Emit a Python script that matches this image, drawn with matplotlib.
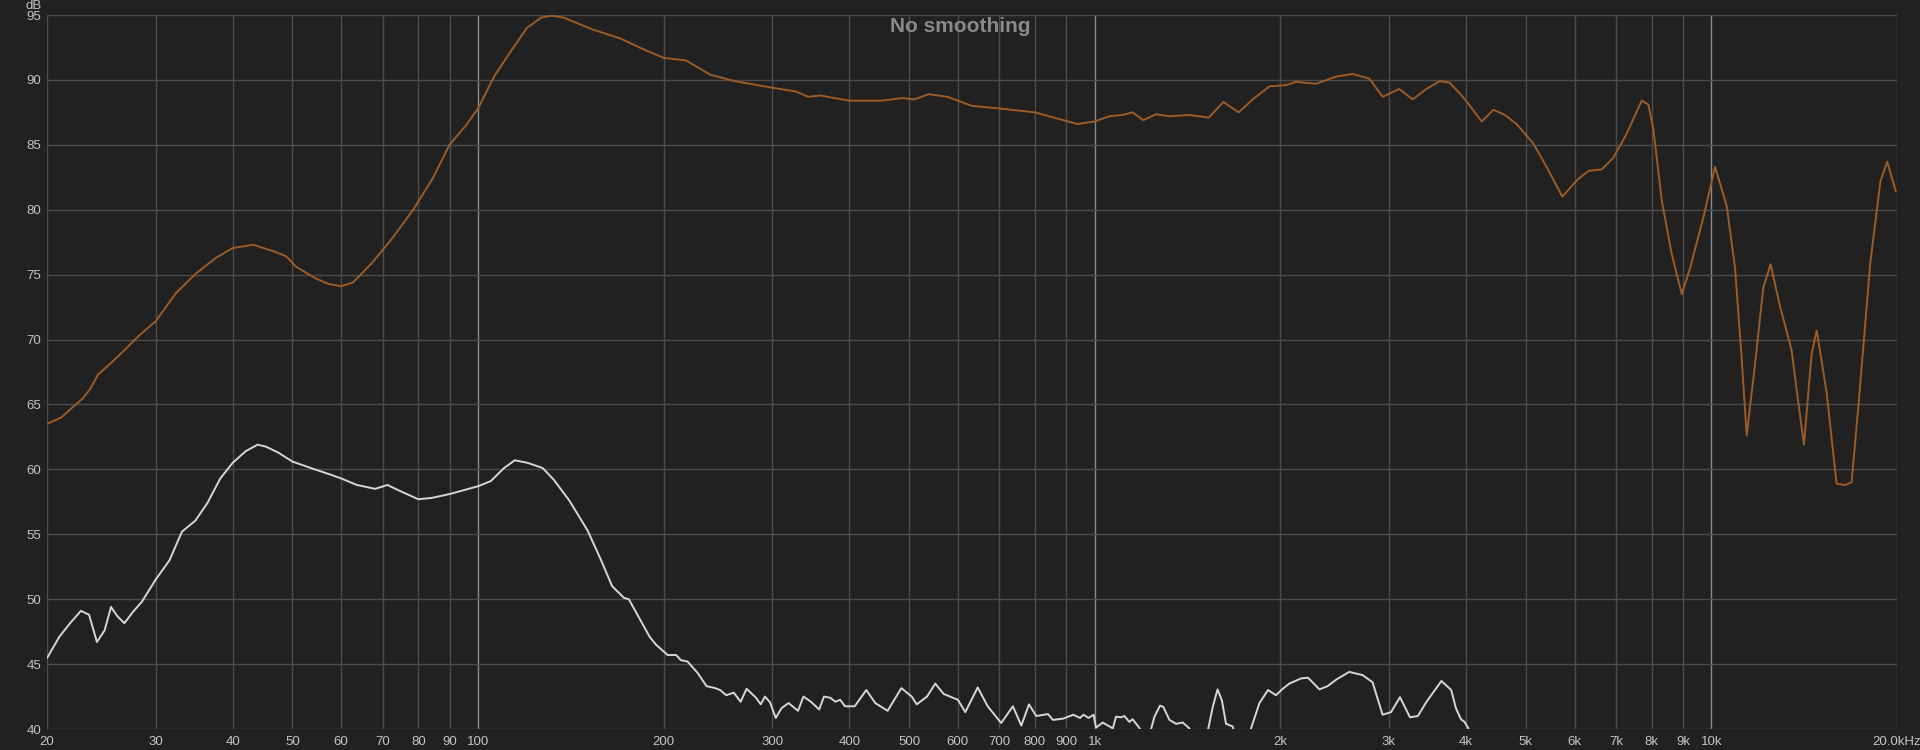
import numpy as np
import matplotlib.pyplot as plt
from matplotlib.ticker import FixedLocator, NullLocator

# orange trace (Hz, dB)
orange_freq = [20, 21.1, 21.9, 22.9, 23.5, 24.2, 25.4, 26.6, 28.2, 30, 32.4, 34.9, 37.6, 40, 43.2,
               46.6, 48.9, 50.7, 54.6, 57.1, 60, 62.7, 67.3, 72.6, 78.5, 84.4, 89.9, 95.6, 100,
               106.3, 113, 120, 126.6, 131.5, 137.7, 153, 170, 186.6, 200, 217.5, 238, 261, 300,
               328, 343, 359, 400, 451, 488, 510, 538, 577, 632, 700, 800, 843, 938, 1000, 1056,
               1110, 1152, 1199, 1257, 1322, 1424, 1531, 1617, 1712, 1804, 1920, 2043, 2120, 2285,
               2463, 2620, 2787, 2931, 3117, 3279, 3450, 3625, 3759, 3902, 4000, 4242, 4432, 4626,
               4831, 5145, 5405, 5733, 6060, 6324, 6640, 6934, 7288, 7709, 7903, 8053, 8310, 8623,
               8954, 9236, 9705, 10138, 10589, 10925, 11200, 11410, 11770, 12140, 12475, 12915,
               13490, 13830, 14130, 14540, 14820, 15380, 15960, 16460, 16880, 17310, 18100, 18800,
               19280, 19920]
orange_db = [63.5, 64.0, 64.7, 65.5, 66.2, 67.3, 68.2, 69.1, 70.3, 71.4, 73.6, 75.1, 76.3, 77.05, 77.3,
             76.8, 76.4, 75.6, 74.7, 74.3, 74.1, 74.4, 75.9, 77.8, 80.0, 82.4, 85.0, 86.5, 87.8,
             90.3, 92.2, 94.0, 94.8, 94.95, 94.8, 93.9, 93.2, 92.3, 91.7, 91.5, 90.4, 89.9, 89.4,
             89.1, 88.7, 88.8, 88.4, 88.4, 88.6, 88.5, 88.9, 88.7, 88.0, 87.8, 87.5, 87.2, 86.6, 86.8, 87.2,
             87.3, 87.5, 86.9, 87.35, 87.2, 87.3, 87.1, 88.3, 87.5, 88.5, 89.5, 89.6, 89.85, 89.7,
             90.26, 90.46, 90.1, 88.7, 89.3, 88.5, 89.3, 89.9, 89.8, 89.0, 88.4, 86.8, 87.7, 87.3,
             86.6, 85.1, 83.3, 81.0, 82.3, 83.0, 83.1, 84.0, 85.85, 88.4, 88.1, 86.2, 80.7, 76.6,
             73.5, 75.5, 79.4, 83.3, 80.3, 75.5, 68.5, 62.6, 68.1, 74.0, 75.8, 72.6,
             69.2, 65.2, 61.9, 68.9, 70.7, 65.9, 58.9, 58.8, 59.0, 64.8, 75.9, 82.2,
             83.7, 81.4]

# white trace (Hz, dB) - dips below 40 are cut off by the axis
white_freq = [20, 20.94, 21.8, 22.7, 23.4, 24.1, 24.8, 25.4, 26.0, 26.7, 27.6, 28.5, 30, 31.6, 33.1,
              34.8, 36.4, 38.2, 40, 42.0, 43.9, 45.3, 47.4, 50, 53.6, 57.6, 60, 63.6, 68.1, 71.3,
              74.2, 80, 84.1, 90, 94.8, 100, 104.9, 110.2, 114.7, 120.4, 127.3, 132.7, 140.6, 150.5,
              158, 165, 172.5, 175.6, 183.3, 189.8, 194.3, 203, 209.5, 213.3, 218.6, 227.2, 234.7,
              242.4, 247, 252.6, 259.8, 266.6, 272.6, 282.4, 287.3, 292, 297.5, 304, 310.5, 318.8,
              330.3, 337.1, 346.6, 357.4, 363.9, 372.8, 379.7, 386.6, 393.6, 408.1, 426.2, 440.7,
              461.5, 485.8, 505, 514.5, 534.7, 551.4, 569, 600, 616.8, 646, 670.7, 705.2, 736.8,
              760.3, 782.4, 804, 839.9, 855.9, 888.9, 923.2, 946.8, 958.8, 977.1, 995.8, 1005,
              1030, 1070, 1083, 1103, 1117, 1138, 1152, 1181, 1215, 1250, 1276, 1292, 1322, 1355,
              1389, 1424, 1490, 1554, 1582, 1608, 1633, 1674, 1730, 1793, 1850, 1910, 1968, 2018,
              2069, 2162, 2218, 2315, 2386, 2463, 2587, 2720, 2822, 2930, 3024, 3126, 3246, 3343,
              3452, 3650, 3786, 3853, 3926, 3978, 4036, 4080]
white_db = [45.46, 47.1, 48.15, 49.1, 48.8, 46.7, 47.6, 49.4, 48.7, 48.15, 49.05, 49.8, 51.5, 53.0, 55.2,
            56.05, 57.4, 59.3, 60.5, 61.4, 61.9, 61.75, 61.3, 60.6, 60.1, 59.6, 59.3, 58.8, 58.5, 58.8,
            58.4, 57.7, 57.8, 58.1, 58.4, 58.7, 59.1, 60.1, 60.7, 60.5, 60.1, 59.2, 57.6, 55.3,
            53.1, 51.0, 50.1, 50.0, 48.4, 47.1, 46.5, 45.7, 45.7, 45.3, 45.2, 44.3, 43.3,
            43.15, 43.0, 42.6, 42.8, 42.1, 43.1, 42.4, 41.9, 42.5, 42.05, 40.85, 41.6, 42.0,
            41.4, 42.5, 42.1, 41.5, 42.5, 42.4, 42.1, 42.25, 41.75, 41.75, 43.0, 42.0,
            41.4, 43.15, 42.5, 41.9, 42.5, 43.5, 42.7, 42.25, 41.3, 43.2, 41.75, 40.46, 41.75,
            40.26, 41.9, 41.0, 41.15, 40.7, 40.8, 41.1, 40.85, 41.1, 40.85, 41.1, 40.1,
            40.5, 40.05, 40.95, 40.9, 41.0, 40.55, 40.75, 40.1, 38.8, 40.95, 41.8, 41.7, 40.7, 40.4,
            40.5, 40.05, 37.5, 41.7, 43.05, 42.2, 40.4, 40.2, 37.5, 40.05, 42.0, 43.0, 42.6, 43.1,
            43.5, 43.9, 43.95, 43.05, 43.3, 43.8, 44.4, 44.15, 43.6, 41.1, 41.3, 42.45, 40.9, 41.0,
            42.1, 43.7, 43.0, 41.6, 40.75, 40.55, 40.05, 39.0]

x_ticks = [20, 30, 40, 50, 60, 70, 80, 90, 100, 200, 300, 400, 500, 600, 700, 800, 900,
           1000, 2000, 3000, 4000, 5000, 6000, 7000, 8000, 9000, 10000, 20000]
x_labels = ['20', '30', '40', '50', '60', '70', '80', '90', '100', '200', '300', '400', '500',
            '600', '700', '800', '900', '1k', '2k', '3k', '4k', '5k', '6k', '7k', '8k', '9k',
            '10k', '20.0kHz']
y_ticks = list(range(40, 96, 5))

bg = '#212121'
fig = plt.figure(figsize=(19.2, 7.5), dpi=100, facecolor=bg)
ax = fig.add_axes([47 / 1920, 21 / 750, 1850 / 1920, 714 / 750], facecolor=bg)

ax.set_xscale('log')
ax.set_xlim(20, 20000)
ax.set_ylim(40, 95)

# grid
for f in x_ticks:
    c = '#8c8c8c' if f in (100, 1000, 10000) else '#4c4c4c'
    ax.axvline(f, color=c, lw=1, zorder=1)
for d in y_ticks:
    ax.axhline(d, color='#4c4c4c', lw=1, zorder=1)

ax.plot(orange_freq, orange_db, color='#9c5c28', lw=1.4, zorder=3,
        solid_joinstyle='round', solid_capstyle='round')
ax.plot(white_freq, white_db, color='#d6d6d6', lw=1.4, zorder=3,
        solid_joinstyle='round', solid_capstyle='round')

for s in ax.spines.values():
    s.set_visible(False)

ax.xaxis.set_major_locator(FixedLocator(x_ticks))
ax.xaxis.set_minor_locator(NullLocator())
ax.set_xticklabels(x_labels)
ax.set_yticks(y_ticks)
ax.set_yticklabels([str(v) for v in y_ticks])
ax.tick_params(axis='both', length=0, colors='#c4c4c4', labelsize=9.5)
ax.tick_params(axis='x', pad=5)
ax.tick_params(axis='y', pad=4)
for lab in ax.get_xticklabels() + ax.get_yticklabels():
    lab.set_fontfamily('Liberation Sans')

fig.text(42 / 1920, 1 - 6 / 750, 'dB', color='#c4c4c4', fontsize=9.5, ha='right', va='center',
         family='Liberation Sans')
fig.text(0.5, 1 - 26 / 750, 'No smoothing', color='#8a8a8a', fontsize=15, fontweight='bold',
         ha='center', va='center', family='Liberation Sans')

fig.savefig('out.png', dpi=100, facecolor=bg)
